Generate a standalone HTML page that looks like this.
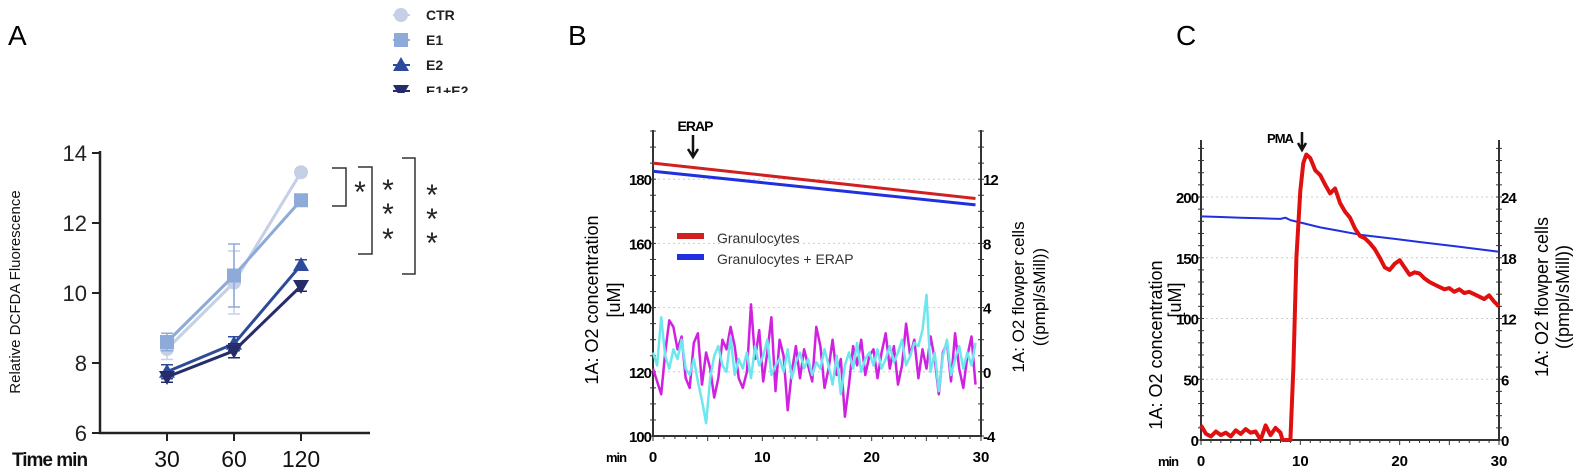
<!DOCTYPE html>
<html><head><meta charset="utf-8"><style>
body{margin:0;background:#fff;}
svg{display:block;font-family:"Liberation Sans",sans-serif;}
</style></head><body>
<svg id="s" width="1579" height="473" viewBox="0 0 1579 473"></svg>
<script>
// ---- Panel A data
const aTimes=["30","60","120"];
const aSeries=["CTR","E1","E2","E1+E2"];
const aCTR=[8.4,10.3,13.45];
const aE1=[8.6,10.5,12.65];
const aE2=[7.75,8.55,10.8];
const aE12=[7.6,8.35,10.2];
const aErrCTR=[0.3,0.9,0.1];
const aErrE1=[0.25,0.9,0.1];
const aErrE2=[0.2,0.2,0.15];
const aErrE12=[0.15,0.2,0.15];
const aYTicks=[6,8,10,12,14];
// ---- Panel B data
const bLeftTicks=[100,120,140,160,180];
const bRightTicks=[-4,0,4,8,12];
const bXTicks=[0,10,20,30];
const bRedX=[0,29.5];const bRed=[185,174];
const bBlueX=[0,29.5];const bBlue=[182.5,172];
const bMag=[121,117,113,126,136,134,127,131,118,115,129,132,116,126,121,112,118,130,127,134,128,118,115,120,141,124,133,117,126,137,114,130,125,108,120,128,118,127,122,117,134,128,115,121,130,119,124,106,116,128,122,130,119,125,127,118,126,132,121,128,116,122,135,125,130,118,127,121,131,124,113,126,129,117,132,121,115,125,131,116];
const bCyan=[126,122,137,125,121,127,124,130,121,119,124,117,111,104,118,125,128,122,120,131,119,124,121,126,118,128,122,125,130,119,122,124,120,127,118,123,126,121,124,119,123,121,127,122,116,125,113,122,126,121,129,120,124,126,122,127,121,124,128,123,126,130,122,125,129,128,133,144,120,126,114,125,130,119,124,128,121,126,122,129];
// ---- Panel C data
const cLeftTicks=[0,50,100,150,200];
const cRightTicks=[0,6,12,18,24];
const cXTicks=[0,10,20,30];
const cBlueX=[0,2,4,6,8,8.5,9,10,12,14,16,18,20,22,24,26,28,30];
const cBlue=[184,183.5,183,182.5,182,183,181,179,175,172,169,167,165,163,161,159,157,155];
const cRedX=[0,0.5,1,1.5,2,2.5,3,3.5,4,4.5,5,5.5,6,6.5,7,7.5,8,8.2,9,9.3,9.6,10,10.3,10.6,11,11.5,12,12.5,13,13.5,14,14.5,15,15.5,16,16.5,17,17.5,18,18.5,19,19.5,20,20.5,21,21.5,22,22.5,23,23.5,24,24.5,25,25.5,26,26.5,27,27.5,28,28.5,29,29.5,30];
const cRed=[12,5,3,7,4,6,3,8,5,9,6,7,0,12,4,10,6,0,0,60,150,205,228,235,232,222,218,210,203,207,195,188,183,174,168,166,162,157,150,142,140,145,148,142,136,138,137,133,130,128,126,124,125,122,124,121,122,120,118,116,119,114,110];

const NS="http://www.w3.org/2000/svg";
const svg=document.getElementById('s');
function el(tag,attrs,parent,name,txt){const e=document.createElementNS(NS,tag);for(const k in attrs)e.setAttribute(k,attrs[k]);


if(txt!==undefined)e.textContent=txt;(parent||svg).appendChild(e);return e;}
function poly(xs,ys,fx,fy,stroke,w,parent,name){let d=xs.map((x,i)=>(i?'L':'M')+fx(x).toFixed(1)+' '+fy(ys[i]).toFixed(1)).join(' ');return el('path',{d:d,fill:'none',stroke:stroke,'stroke-width':w,'stroke-linejoin':'round'},parent,name);}

// ================= Panel A
const gA=el('g',{},svg,'panel-a');
el('text',{x:8,y:45,'font-size':28},gA,'panel-a-label','A');
const ay=v=>433-(v-6)*35, ax=i=>[167,234,301][i];
el('line',{x1:100,y1:151,x2:100,y2:434,stroke:'#222','stroke-width':2.5},gA,'a-y-axis');
el('line',{x1:99,y1:433,x2:370,y2:433,stroke:'#222','stroke-width':2.5},gA,'a-x-axis');
aYTicks.forEach(t=>{el('line',{x1:92,y1:ay(t),x2:100,y2:ay(t),stroke:'#222','stroke-width':2},gA,'a-y-tick');
el('text',{x:87,y:ay(t)+8,'font-size':22,'text-anchor':'end',fill:'#222'},gA,'a-y-tick-label',t);});
aTimes.forEach((t,i)=>{el('line',{x1:ax(i),y1:433,x2:ax(i),y2:441,stroke:'#222','stroke-width':2},gA,'a-x-tick');
el('text',{x:ax(i),y:467,'font-size':23,'text-anchor':'middle',fill:'#111'},gA,'a-x-tick-label',t);});
el('text',{x:12,y:466,'font-size':19,'font-weight':'bold',fill:'#111','letter-spacing':-1},gA,'a-x-axis-title','Time min');
el('text',{x:20,y:292,'font-size':15,'text-anchor':'middle',transform:'rotate(-90 20 292)',fill:'#111'},gA,'a-y-axis-title','Relative DCFDA Fluorescence');
const aCols=['#c5cfe6','#8eaad8','#2e4a9a','#262c6a'];
const aData=[aCTR,aE1,aE2,aE12], aErr=[aErrCTR,aErrE1,aErrE2,aErrE12];
function marker(k,x,y,c,p,name){
 if(k===0) el('circle',{cx:x,cy:y,r:7,fill:c},p,name);
 else if(k===1) el('rect',{x:x-7,y:y-7,width:14,height:14,fill:c},p,name);
 else if(k===2) el('path',{d:`M${x} ${y-8}L${x+8} ${y+6}L${x-8} ${y+6}Z`,fill:c},p,name);
 else el('path',{d:`M${x-8} ${y-6}L${x+8} ${y-6}L${x} ${y+8}Z`,fill:c},p,name);}
aData.forEach((s,k)=>{const g=el('g',{},gA,'a-series-'+aSeries[k].toLowerCase().replace('+','-'));
 poly([0,1,2],s,ax,ay,aCols[k],3,g,'a-line');
 s.forEach((v,i)=>{const e=aErr[k][i];el('path',{d:`M${ax(i)} ${ay(v-e)}V${ay(v+e)}M${ax(i)-6} ${ay(v-e)}H${ax(i)+6}M${ax(i)-6} ${ay(v+e)}H${ax(i)+6}`,stroke:aCols[k],'stroke-width':1.5,fill:'none'},g,'a-error-bar');
 marker(k,ax(i),ay(v),aCols[k],g,'a-point');});});
// legend
const gL=el('g',{},gA,'a-legend');
aSeries.forEach((n,k)=>{const y=[15,40,65,91][k];
 el('line',{x1:393,y1:y,x2:410,y2:y,stroke:aCols[k],'stroke-width':2},gL,'legend-line');
 marker(k,401,y,aCols[k],gL,'legend-marker');
 el('text',{x:426,y:y+5,'font-size':14,'font-weight':'bold',fill:'#222'},gL,'legend-entry',n);});
el('rect',{x:385,y:93,width:120,height:20,fill:'#fff'},gL,'legend-clip');
// brackets
const gS=el('g',{stroke:'#333','stroke-width':1.5,fill:'none'},gA,'significance-brackets');
el('path',{d:'M332 168H346V206H332'},gS,'bracket-1');
el('path',{d:'M358 167H372V254H358'},gS,'bracket-2');
el('path',{d:'M402 158H415V274H402'},gS,'bracket-3');
[[360,202],[388,200],[388,224],[388,249],[432,205],[432,229],[432,253]].forEach(p=>el('text',{x:p[0],y:p[1],'font-size':30,'text-anchor':'middle',fill:'#222',stroke:'none'},gA,'significance-star','*'));

// ================= Panel B
const gB=el('g',{},svg,'panel-b');
el('text',{x:568,y:45,'font-size':28},gB,'panel-b-label','B');
const bx=v=>653+v*(328/30), by=v=>436-(v-100)*3.21, bry=v=>by(v*5+120);
bLeftTicks.forEach(t=>{if(t>100)el('line',{x1:653,y1:by(t),x2:981,y2:by(t),stroke:'#ccc','stroke-dasharray':'2 3'},gB,'b-grid');});
el('line',{x1:653,y1:130,x2:653,y2:437,stroke:'#333','stroke-width':2},gB,'b-left-axis');
el('line',{x1:981,y1:130,x2:981,y2:437,stroke:'#333','stroke-width':2},gB,'b-right-axis');
el('line',{x1:652,y1:436,x2:982,y2:436,stroke:'#333','stroke-width':2},gB,'b-x-axis');
for(let v=0;v<=30;v++){el('line',{x1:bx(v),y1:436,x2:bx(v),y2:v%5?439:441,stroke:'#333'},gB,'b-x-minor-tick');}
for(let v=100;v<=195;v+=5){el('line',{x1:650,y1:by(v),x2:656,y2:by(v),stroke:'#333'},gB,'b-y-minor-tick');el('line',{x1:978,y1:by(v),x2:984,y2:by(v),stroke:'#333'},gB,'b-y2-minor-tick');}
bLeftTicks.forEach(t=>el('text',{x:651,y:by(t)+6,'font-size':15,'font-weight':'bold','text-anchor':'end','letter-spacing':-1},gB,'b-y-tick-label',t));
bRightTicks.forEach(t=>el('text',{x:983,y:bry(t)+6,'font-size':15,'font-weight':'bold','letter-spacing':-1},gB,'b-y2-tick-label',t));
bXTicks.forEach(t=>el('text',{x:bx(t),y:462,'font-size':15,'font-weight':'bold','text-anchor':'middle'},gB,'b-x-tick-label',t));
el('text',{x:606,y:462,'font-size':13,'font-weight':'bold','letter-spacing':-1},gB,'b-x-axis-title','min');
const bstep=29.5/(bMag.length-1);
poly(bMag.map((_,i)=>i*bstep),bMag,bx,by,'#d020e0',2.5,gB,'b-flux-granulocytes');
poly(bCyan.map((_,i)=>i*bstep),bCyan,bx,by,'#6ee6ee',2.5,gB,'b-flux-granulocytes-erap');
poly(bRedX,bRed,bx,by,'#d02020',3,gB,'b-o2-granulocytes');
poly(bBlueX,bBlue,bx,by,'#2030e0',3,gB,'b-o2-granulocytes-erap');
el('text',{x:695,y:131,'font-size':14,'font-weight':'bold','text-anchor':'middle','letter-spacing':-1},gB,'erap-annotation','ERAP');
el('path',{d:'M693 135V155M688 149L693 157L698 149',stroke:'#111','stroke-width':2.5,fill:'none'},gB,'erap-arrow');
el('rect',{x:677,y:233,width:27,height:6,fill:'#d02020'},gB,'b-legend-swatch-red');
el('rect',{x:677,y:254,width:27,height:6,fill:'#2030e0'},gB,'b-legend-swatch-blue');
el('text',{x:717,y:243,'font-size':14,fill:'#333'},gB,'b-legend-entry','Granulocytes');
el('text',{x:717,y:264,'font-size':14,fill:'#333'},gB,'b-legend-entry','Granulocytes + ERAP');
el('text',{x:598,y:300,'font-size':18,'text-anchor':'middle',transform:'rotate(-90 598 300)'},gB,'b-y-axis-title','1A: O2 concentration');
el('text',{x:620,y:300,'font-size':18,'text-anchor':'middle',transform:'rotate(-90 620 300)'},gB,'b-y-axis-unit','[uM]');
el('text',{x:1024,y:297,'font-size':17,'text-anchor':'middle',transform:'rotate(-90 1024 297)'},gB,'b-y2-axis-title','1A: O2 flowper cells');
el('text',{x:1045,y:297,'font-size':17,'text-anchor':'middle',transform:'rotate(-90 1045 297)'},gB,'b-y2-axis-unit','((pmpl/sMill))');

// ================= Panel C
const gC=el('g',{},svg,'panel-c');
el('text',{x:1176,y:45,'font-size':28},gC,'panel-c-label','C');
const cx=v=>1201+v*(298/30), cy=v=>440-v*1.215, cry=v=>cy(v*200/24);
cLeftTicks.forEach(t=>{if(t>0)el('line',{x1:1201,y1:cy(t),x2:1499,y2:cy(t),stroke:'#ccc','stroke-dasharray':'2 3'},gC,'c-grid');});
el('line',{x1:1201,y1:140,x2:1201,y2:441,stroke:'#333','stroke-width':2},gC,'c-left-axis');
el('line',{x1:1499,y1:140,x2:1499,y2:441,stroke:'#333','stroke-width':2},gC,'c-right-axis');
el('line',{x1:1200,y1:440,x2:1500,y2:440,stroke:'#333','stroke-width':2},gC,'c-x-axis');
for(let v=0;v<=30;v++){el('line',{x1:cx(v),y1:440,x2:cx(v),y2:v%5?443:445,stroke:'#333'},gC,'c-x-minor-tick');}
for(let v=0;v<=240;v+=10){el('line',{x1:1198,y1:cy(v),x2:1204,y2:cy(v),stroke:'#333'},gC,'c-y-minor-tick');el('line',{x1:1496,y1:cy(v),x2:1502,y2:cy(v),stroke:'#333'},gC,'c-y2-minor-tick');}
cLeftTicks.forEach(t=>el('text',{x:1198,y:cy(t)+6,'font-size':15,'font-weight':'bold','text-anchor':'end','letter-spacing':-1},gC,'c-y-tick-label',t));
cRightTicks.forEach(t=>el('text',{x:1501,y:cry(t)+6,'font-size':15,'font-weight':'bold','letter-spacing':-1},gC,'c-y2-tick-label',t));
cXTicks.forEach(t=>el('text',{x:cx(t),y:466,'font-size':15,'font-weight':'bold','text-anchor':'middle'},gC,'c-x-tick-label',t));
el('text',{x:1158,y:466,'font-size':13,'font-weight':'bold','letter-spacing':-1},gC,'c-x-axis-title','min');
poly(cBlueX,cBlue,cx,cy,'#2030e0',2,gC,'c-o2-concentration');
poly(cRedX,cRed,cx,cy,'#e01010',4,gC,'c-o2-flux');
el('text',{x:1280,y:143,'font-size':13,'font-weight':'bold','text-anchor':'middle','letter-spacing':-1},gC,'pma-annotation','PMA');
el('path',{d:'M1302 132V148M1298 143L1302 150L1306 143',stroke:'#111','stroke-width':2.5,fill:'none'},gC,'pma-arrow');
el('text',{x:1162,y:345,'font-size':18,'text-anchor':'middle',transform:'rotate(-90 1162 345)'},gC,'c-y-axis-title','1A: O2 concentration');
el('text',{x:1181,y:300,'font-size':18,'text-anchor':'middle',transform:'rotate(-90 1181 300)'},gC,'c-y-axis-unit','[uM]');
el('text',{x:1548,y:297,'font-size':18,'text-anchor':'middle',transform:'rotate(-90 1548 297)'},gC,'c-y2-axis-title','1A: O2 flowper cells');
el('text',{x:1569,y:297,'font-size':18,'text-anchor':'middle',transform:'rotate(-90 1569 297)'},gC,'c-y2-axis-unit','((pmpl/sMill))');
</script>
</body></html>
